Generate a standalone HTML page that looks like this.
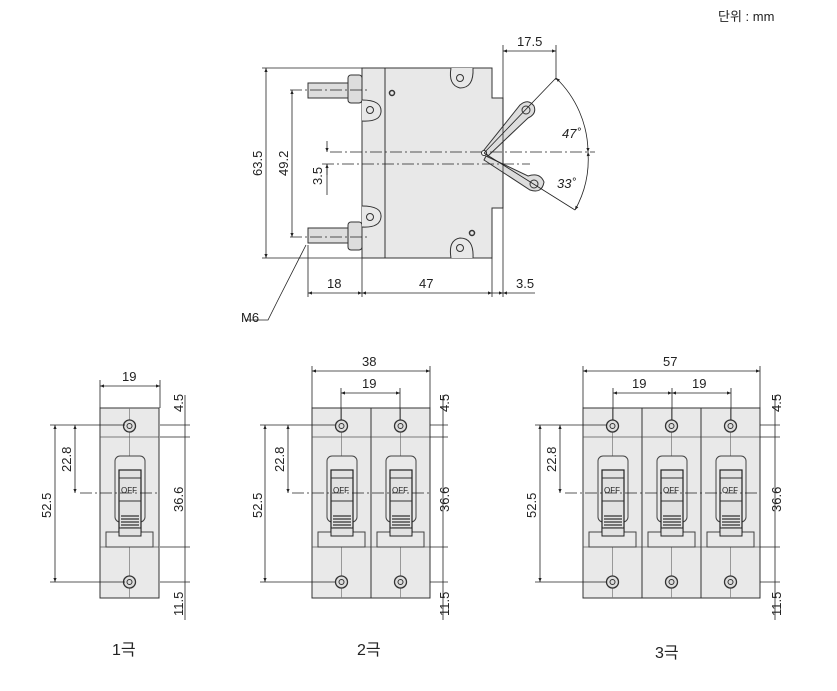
<!DOCTYPE html>
<html><head><meta charset="utf-8"><style>
body{margin:0;background:#fff}
svg{display:block}
text{font-family:"Liberation Sans","Noto Sans CJK KR",sans-serif;fill:#222}
</style></head><body>
<svg width="837" height="691" viewBox="0 0 837 691" xmlns="http://www.w3.org/2000/svg">
<defs>
<marker id="a" viewBox="0 0 10 10" refX="10" refY="5" markerWidth="7" markerHeight="5" orient="auto-start-reverse"><path d="M0,1 L10,5 L0,9 z" fill="#222"/></marker>
<g id="mod">
<rect x="0" y="0" width="59" height="190" fill="#e9e9e9" stroke="#333" stroke-width="1"/>
<line x1="29.5" y1="0" x2="29.5" y2="190" stroke="#777" stroke-width="0.7"/>
<line x1="0" y1="29" x2="59" y2="29" stroke="#555" stroke-width="0.8"/>
<line x1="0" y1="139" x2="59" y2="139" stroke="#555" stroke-width="0.8"/>
<circle cx="29.5" cy="18" r="6" fill="#ddd" stroke="#333" stroke-width="1.3"/>
<circle cx="29.5" cy="18" r="2.5" fill="none" stroke="#333"/>
<circle cx="29.5" cy="174" r="6" fill="#ddd" stroke="#333" stroke-width="1.3"/>
<circle cx="29.5" cy="174" r="2.5" fill="none" stroke="#333"/>
<rect x="15" y="48" width="30" height="66" rx="5" fill="#e9e9e9" stroke="#444"/>
<rect x="19" y="62" width="22" height="66" fill="#e2e2e2" stroke="#222" stroke-width="1.2"/>
<line x1="19" y1="70" x2="41" y2="70" stroke="#333"/>
<line x1="19" y1="93" x2="41" y2="93" stroke="#333"/>
<path d="M21,108 H39 M21,111 H39 M21,114 H39 M21,117 H39 M21,120 H39 M21,123 H39" stroke="#333" stroke-width="1.2"/>
<rect x="6" y="124" width="47" height="15" fill="#e9e9e9" stroke="#444"/>
<rect x="19" y="120" width="22" height="8" fill="#e2e2e2" stroke="#222"/>
</g>
</defs>

<text x="718" y="21" font-size="13">단위 : mm</text>

<!-- side view -->
<g stroke="#333" fill="#e8e8e8">
<path d="M362,68 H492 V98 H503 V208 H492 V258 H362 Z"/>
<rect x="308" y="83" width="40" height="15" fill="#ddd"/>
<rect x="308" y="228" width="40" height="15" fill="#ddd"/>
<rect x="348" y="75" width="14" height="28" rx="3" fill="#ddd"/>
<rect x="348" y="222" width="14" height="28" rx="3" fill="#ddd"/>
<path d="M362,100 Q382,100 381,112 Q380,122 362,121" fill="#e8e8e8"/>
<path d="M362,206 Q382,206 381,217 Q380,228 362,227" fill="#e8e8e8"/>
<circle cx="370" cy="110" r="3.5" fill="none"/>
<circle cx="370" cy="217" r="3.5" fill="none"/>
<path d="M451,68 Q448,85 460,88 Q474,88 473,68" />
<path d="M451,258 Q448,240 460,238 Q474,238 473,258" />
<circle cx="460" cy="78" r="3.5" fill="none"/>
<circle cx="460" cy="248" r="3.5" fill="none"/>
<circle cx="392" cy="93" r="2.5" fill="none" stroke-width="1.5"/>
<circle cx="472" cy="233" r="2.5" fill="none" stroke-width="1.5"/>
<line x1="385" y1="68" x2="385" y2="258"/>
<path d="M484,150 L520,105 Q528,98 534,106 Q537,114 528,118 L488,156 Z" fill="#ddd"/>
<path d="M486,156 L528,176 Q540,172 544,182 Q542,194 530,190 L484,160 Z" fill="#ddd"/>
<circle cx="526" cy="110" r="4" fill="none"/>
<circle cx="534" cy="184" r="4" fill="none"/>
<circle cx="484" cy="153" r="2.5" fill="#fff"/>
</g>
<g stroke="#222" stroke-width="0.8" fill="none">
<line x1="330" y1="152" x2="595" y2="152" stroke-dasharray="12,3,2,3"/>
<line x1="322" y1="164" x2="530" y2="164" stroke-dasharray="12,3,2,3"/>
<line x1="290" y1="90" x2="370" y2="90" stroke-dasharray="12,3,2,3"/>
<line x1="290" y1="237" x2="370" y2="237" stroke-dasharray="12,3,2,3"/>
<line x1="262" y1="68" x2="362" y2="68"/>
<line x1="262" y1="258" x2="362" y2="258"/>
<line x1="266" y1="68" x2="266" y2="258" marker-start="url(#a)" marker-end="url(#a)"/>
<line x1="292" y1="90" x2="292" y2="237" marker-start="url(#a)" marker-end="url(#a)"/>
<line x1="327" y1="141" x2="327" y2="152" marker-end="url(#a)"/>
<line x1="327" y1="175" x2="327" y2="164" marker-end="url(#a)"/>
<line x1="327" y1="164" x2="327" y2="195"/>
<line x1="308" y1="245" x2="308" y2="297"/>
<line x1="362" y1="258" x2="362" y2="297"/>
<line x1="492" y1="258" x2="492" y2="297"/>
<line x1="503" y1="45" x2="503" y2="297"/>
<line x1="308" y1="293" x2="362" y2="293" marker-start="url(#a)" marker-end="url(#a)"/>
<line x1="362" y1="293" x2="492" y2="293" marker-start="url(#a)" marker-end="url(#a)"/>
<line x1="492" y1="293" x2="503" y2="293" marker-end="url(#a)"/>
<line x1="503" y1="293" x2="535" y2="293" marker-start="url(#a)"/>
<line x1="556" y1="45" x2="556" y2="80"/>
<line x1="503" y1="51" x2="556" y2="51" marker-start="url(#a)" marker-end="url(#a)"/>
<line x1="484" y1="153" x2="556" y2="78"/>
<line x1="484" y1="153" x2="575" y2="210"/>
<path d="M556,78 A104,104 0 0 1 588,152" marker-start="url(#a)" marker-end="url(#a)"/>
<path d="M588,152 A104,104 0 0 1 575,210" marker-start="url(#a)" marker-end="url(#a)"/>
<path d="M306,245 L278,300 L268,320 L245,320"/>
</g>
<g font-size="13">
<text x="517" y="46">17.5</text>
<text x="562" y="138" font-style="italic">47˚</text>
<text x="557" y="188" font-style="italic">33˚</text>
<text x="327" y="288">18</text>
<text x="419" y="288">47</text>
<text x="516" y="288">3.5</text>
<text x="241" y="322">M6</text>
<text transform="translate(262,176) rotate(-90)">63.5</text>
<text transform="translate(288,176) rotate(-90)">49.2</text>
<text transform="translate(322,185) rotate(-90)">3.5</text>
</g>

<!-- pole views -->
<use href="#mod" x="100" y="408" width="60"/>
<use href="#mod" x="312" y="408"/><use href="#mod" x="371" y="408"/>
<use href="#mod" x="583" y="408"/><use href="#mod" x="642" y="408"/><use href="#mod" x="701" y="408"/>
<g font-size="8" fill="#444">
<text x="121" y="493">OFF</text>
<text x="333" y="493">OFF</text><text x="392" y="493">OFF</text>
<text x="604" y="493">OFF</text><text x="663" y="493">OFF</text><text x="722" y="493">OFF</text>
</g>
<g stroke="#222" stroke-width="0.8" fill="none">
<!-- 1 pole -->
<line x1="100" y1="380" x2="100" y2="408"/><line x1="160" y1="380" x2="160" y2="408"/>
<line x1="100" y1="386" x2="160" y2="386" marker-start="url(#a)" marker-end="url(#a)"/>
<line x1="50" y1="425" x2="125" y2="425"/><line x1="50" y1="582" x2="125" y2="582"/>
<line x1="55" y1="425" x2="55" y2="582" marker-start="url(#a)" marker-end="url(#a)"/>
<line x1="75" y1="425" x2="75" y2="493" marker-start="url(#a)" marker-end="url(#a)"/>
<line x1="80" y1="493" x2="160" y2="493" stroke-dasharray="12,3,2,3"/>
<line x1="160" y1="425" x2="190" y2="425"/><line x1="160" y1="437" x2="190" y2="437"/>
<line x1="160" y1="547" x2="190" y2="547"/><line x1="160" y1="582" x2="190" y2="582"/>
<line x1="185" y1="395" x2="185" y2="620"/>
<!-- 2 pole -->
<line x1="312" y1="366" x2="312" y2="408"/><line x1="430" y1="366" x2="430" y2="408"/>
<line x1="312" y1="371" x2="430" y2="371" marker-start="url(#a)" marker-end="url(#a)"/>
<line x1="341" y1="388" x2="341" y2="420"/><line x1="400" y1="388" x2="400" y2="420"/>
<line x1="341" y1="393" x2="400" y2="393" marker-start="url(#a)" marker-end="url(#a)"/>
<line x1="260" y1="425" x2="335" y2="425"/><line x1="260" y1="582" x2="335" y2="582"/>
<line x1="265" y1="425" x2="265" y2="582" marker-start="url(#a)" marker-end="url(#a)"/>
<line x1="288" y1="425" x2="288" y2="493" marker-start="url(#a)" marker-end="url(#a)"/>
<line x1="292" y1="493" x2="430" y2="493" stroke-dasharray="12,3,2,3"/>
<line x1="430" y1="425" x2="448" y2="425"/><line x1="430" y1="437" x2="448" y2="437"/>
<line x1="430" y1="547" x2="448" y2="547"/><line x1="430" y1="582" x2="448" y2="582"/>
<line x1="443" y1="395" x2="443" y2="620"/>
<!-- 3 pole -->
<line x1="583" y1="366" x2="583" y2="408"/><line x1="760" y1="366" x2="760" y2="408"/>
<line x1="583" y1="371" x2="760" y2="371" marker-start="url(#a)" marker-end="url(#a)"/>
<line x1="613" y1="388" x2="613" y2="420"/><line x1="672" y1="388" x2="672" y2="420"/><line x1="731" y1="388" x2="731" y2="420"/>
<line x1="613" y1="393" x2="672" y2="393" marker-start="url(#a)" marker-end="url(#a)"/>
<line x1="672" y1="393" x2="731" y2="393" marker-start="url(#a)" marker-end="url(#a)"/>
<line x1="535" y1="425" x2="607" y2="425"/><line x1="535" y1="582" x2="607" y2="582"/>
<line x1="540" y1="425" x2="540" y2="582" marker-start="url(#a)" marker-end="url(#a)"/>
<line x1="560" y1="425" x2="560" y2="493" marker-start="url(#a)" marker-end="url(#a)"/>
<line x1="565" y1="493" x2="760" y2="493" stroke-dasharray="12,3,2,3"/>
<line x1="760" y1="425" x2="780" y2="425"/><line x1="760" y1="437" x2="780" y2="437"/>
<line x1="760" y1="547" x2="780" y2="547"/><line x1="760" y1="582" x2="780" y2="582"/>
<line x1="775" y1="395" x2="775" y2="620"/>
</g>
<g font-size="13">
<text x="122" y="381">19</text>
<text x="362" y="366">38</text><text x="362" y="388">19</text>
<text x="663" y="366">57</text><text x="632" y="388">19</text><text x="692" y="388">19</text>
<text transform="translate(51,518) rotate(-90)">52.5</text>
<text transform="translate(71,472) rotate(-90)">22.8</text>
<text transform="translate(183,412) rotate(-90)">4.5</text>
<text transform="translate(183,512) rotate(-90)">36.6</text>
<text transform="translate(183,616) rotate(-90)">11.5</text>
<text transform="translate(262,518) rotate(-90)">52.5</text>
<text transform="translate(284,472) rotate(-90)">22.8</text>
<text transform="translate(449,412) rotate(-90)">4.5</text>
<text transform="translate(449,512) rotate(-90)">36.6</text>
<text transform="translate(449,616) rotate(-90)">11.5</text>
<text transform="translate(536,518) rotate(-90)">52.5</text>
<text transform="translate(556,472) rotate(-90)">22.8</text>
<text transform="translate(781,412) rotate(-90)">4.5</text>
<text transform="translate(781,512) rotate(-90)">36.6</text>
<text transform="translate(781,616) rotate(-90)">11.5</text>
</g>
<g font-size="16">
<text x="112" y="655">1극</text>
<text x="357" y="655">2극</text>
<text x="655" y="658">3극</text>
</g>
</svg>
</body></html>
